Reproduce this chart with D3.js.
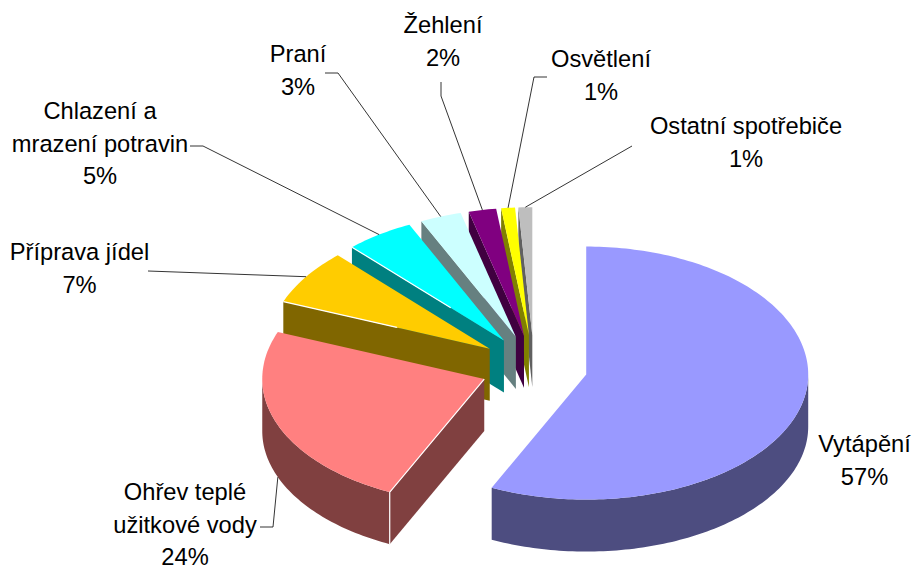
<!DOCTYPE html>
<html>
<head>
<meta charset="utf-8">
<script src="https://cdn.jsdelivr.net/npm/d3@7"></script>
<style>
html, body { margin: 0; padding: 0; background: #fff; }
text { font-family: "Liberation Sans", Arial, sans-serif; font-size: 23.7px; fill: #000; text-anchor: middle; }
</style>
</head>
<body>
<div id="pieChart"></div>
<script>
// chart data
var categories = ["Vytápění", "Ohřev teplé užitkové vody", "Příprava jídel", "Chlazení a mrazení potravin", "Praní", "Žehlení", "Osvětlení", "Ostatní spotřebiče"];
var shares = [57, 24, 7, 5, 3, 2, 1, 1];
var topColors = ["#9999ff", "#ff8080", "#ffcc00", "#00ffff", "#ccffff", "#800080", "#ffff00", "#bebebe"];
var sideColors = ["#4d4d80", "#804040", "#806600", "#008080", "#668080", "#400040", "#808000", "#606060"];

// label text split in lines, then where each label and its leader sit
var labelLines = [["Vytápění"], ["Ohřev teplé", "užitkové vody"], ["Příprava jídel"], ["Chlazení a", "mrazení potravin"], ["Praní"], ["Žehlení"], ["Osvětlení"], ["Ostatní spotřebiče"]];
var labelPos = [[864.5, 452], [185, 500], [79.5, 260], [100, 119], [298, 62], [443, 33], [601, 67], [746, 134]];
var leaderPts = [null, [[260, 527], [273, 527]], [[148, 271]], [[190, 146], [203, 146]], [[325, 73], [338, 73]], [[441, 82], [441, 96]], [[547, 77], [534, 77]], [[632, 146]]];

var width = 915, height = 566;
var cx = 534;
var cyFront = 368, cyBack = 366;   // the tilt shifts the far slices up a little
var rx = 222;
var ryBack = 128, ryFront = 125;   // far half of the ellipse is a bit taller
var depth = 52;
var explode = 0.241;
var lineHeight = 32.6;

var svg = d3.select("#pieChart")
    .append("svg")
    .attr("width", width)
    .attr("height", height)
    .style("display", "block");

function ry(a) { return Math.cos(a) >= 0 ? ryBack : ryFront; }

var slices = d3.pie().sort(null)(shares).map(function(d, i) {
    var mid = (d.startAngle + d.endAngle) / 2;
    d.i = i;
    d.mid = mid;
    d.ax = cx + explode * rx * Math.sin(mid);
    d.ay = (Math.cos(mid) >= 0 ? cyBack : cyFront) - explode * ry(mid) * Math.cos(mid);
    return d;
});

function rim(d, a) {
    return [d.ax + rx * Math.sin(a), d.ay - ry(a) * Math.cos(a)];
}

function arcPts(d, a0, a1) {
    var n = Math.max(2, Math.ceil((a1 - a0) / 0.02));
    return d3.range(n + 1).map(function(k) { return rim(d, a0 + (a1 - a0) * k / n); });
}

function down(p) { return [p[0], p[1] + depth]; }

var line = d3.line();

function wall(a) {
    return function(d) {
        var apex = [d.ax, d.ay], p = rim(d, a(d));
        return line([apex, p, down(p), down(apex)]) + "Z";
    };
}

// back to front, small slices at the top come first
var order = slices.slice().reverse();
var g = svg.selectAll("g.slice")
    .data(order)
    .enter().append("g")
    .attr("class", "slice");

// straight side at the start of a slice, only if it faces us
g.filter(function(d) { return d.startAngle > Math.PI; })
    .append("path")
    .attr("d", wall(function(d) { return d.startAngle; }))
    .attr("fill", function(d) { return sideColors[d.i]; });

// curved outer side
g.filter(function(d) { return d.startAngle < 1.5 * Math.PI && d.endAngle > 0.5 * Math.PI; })
    .append("path")
    .attr("d", function(d) {
        var pts = arcPts(d, Math.max(d.startAngle, 0.5 * Math.PI), Math.min(d.endAngle, 1.5 * Math.PI));
        return line(pts.concat(pts.map(down).reverse())) + "Z";
    })
    .attr("fill", function(d) { return sideColors[d.i]; });

// top face
g.append("path")
    .attr("d", function(d) {
        return line([[d.ax, d.ay]].concat(arcPts(d, d.startAngle, d.endAngle))) + "Z";
    })
    .attr("fill", function(d) { return topColors[d.i]; });

// thin white highlights on the near edges
var highlightFrom = {1: 0, 2: 0.45, 3: 0.35};
g.filter(function(d) { return d.i in highlightFrom; })
    .append("path")
    .attr("d", function(d) {
        var p = rim(d, d.startAngle), f = highlightFrom[d.i];
        var q = [d.ax + (p[0] - d.ax) * f, d.ay + (p[1] - d.ay) * f];
        return d.i == 1 ? line([q, p, down(p)]) : line([q, p]);
    })
    .attr("fill", "none")
    .attr("stroke", "#fff")
    .attr("stroke-width", 1.2);

// leaders end on the middle of the outer edge
slices.forEach(function(d) {
    if (!leaderPts[d.i]) return;
    var end = rim(d, d.mid);
    if (d.mid > 0.5 * Math.PI && d.mid < 1.5 * Math.PI) end = down(end);
    svg.append("path")
        .attr("d", line(leaderPts[d.i].concat([end])))
        .attr("fill", "none")
        .attr("stroke", "#000")
        .attr("stroke-width", 0.8);
});

// labels
var labels = svg.selectAll("text.label")
    .data(slices)
    .enter().append("text")
    .attr("class", "label")
    .attr("transform", function(d) { return "translate(" + labelPos[d.i][0] + "," + labelPos[d.i][1] + ")"; });

labels.selectAll("tspan")
    .data(function(d) { return labelLines[d.i].concat([shares[d.i] + "%"]); })
    .enter().append("tspan")
    .attr("x", 0)
    .attr("y", function(d, i) { return i * lineHeight; })
    .text(function(d) { return d; });
</script>
</body>
</html>
